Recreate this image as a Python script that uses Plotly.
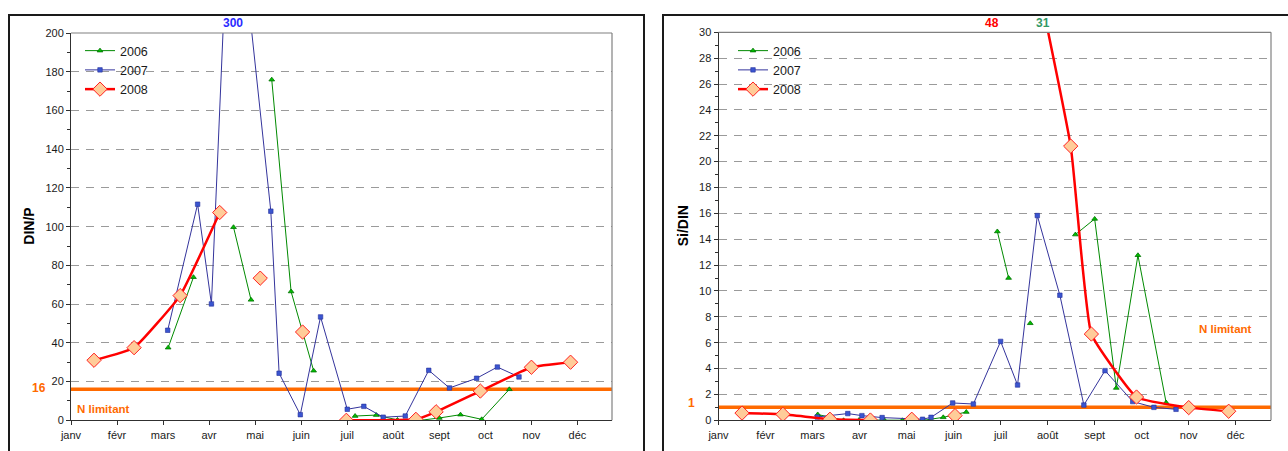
import plotly.graph_objects as go

# ---- axis / categories -------------------------------------------------
mois_labels = ["janv", "févr", "mars", "avr", "mai", "juin",
               "juil", "août", "sept", "oct", "nov", "déc"]

# Sampling dates expressed in months since 1 January (None = break in the line)
mois_2006_dinp = [2.11, 2.66, None, 3.53, 3.91, None, 4.36, 4.78, 5.27, None,
                  6.17, 6.63, 7.09, 7.59, 8.00, 8.46, 8.92, 9.52]
din_p_2006 = [37.5, 73.9, None, 99.7, 62.2, None, 175.9, 66.5, 25.6, None,
              2.2, 2.7, 0.2, 0.0, 1.2, 2.9, 0.5, 16.0]

mois_2006_sidin = [2.11, 2.66, 2.99, 3.53, 3.91, 4.36, 4.78, 5.27, None,
                   5.93, 6.17, None, 6.63, None, 7.09, None,
                   7.59, 8.00, 8.46, 8.92, 9.52]
si_din_2006 = [0.45, 0.0, 0.02, 0.0, 0.0, 0.0, 0.23, 0.64, None,
               14.6, 11.0, None, 7.5, None, 31, None,
               14.36, 15.57, 2.5, 12.76, 1.37]

mois_2007 = [2.10, 2.75, 3.05, 3.48, 4.34, 4.52, 4.98, 5.42, 6.00, 6.36,
             6.78, 7.26, 7.77, 8.22, 8.81, 9.26, 9.73]
din_p_2007 = [46.5, 111.6, 60.1, 300, 108.0, 24.3, 2.9, 53.4, 5.7, 7.2,
              1.6, 2.2, 25.8, 16.7, 21.7, 27.5, 22.4]
si_din_2007 = [0.26, 0.52, 0.36, 0.21, 0.08, 0.23, 1.34, 1.26, 6.1, 2.73,
               15.83, 9.67, 1.18, 3.84, 1.45, 1.0, 0.85]

mois_2008 = [0.50, 1.37, 2.37, 3.23, None, 4.11, None, 5.03, None,
             5.98, 7.49, 7.93, 8.89, 10.0, 10.85]
din_p_2008 = [31.0, 37.5, 64.4, 107.3, None, 73.4, None, 45.6, None,
              0.0, 0.5, 4.4, 15.1, 27.4, 30.0]
si_din_2008 = [0.56, 0.46, 0.08, 0.02, None, 0.08, None, 0.36, None,
               48, 21.2, 6.67, 1.80, 0.98, 0.70]

# Limitation thresholds
seuil_din_p = 16
seuil_si_din = 1

# ---- styling -----------------------------------------------------------
W, H = 1288, 451
FONT = "Liberation Sans, Arial, sans-serif"
ORANGE = "#FF6A00"
X_MAX = 11.75

styles = {
    "2006": dict(line=dict(color="#008A00", width=1),
                 marker=dict(symbol="triangle-up", size=5, color="#00C000",
                             line=dict(color="#007000", width=0.8)),
                 label_color="#339966"),
    "2007": dict(line=dict(color="#34349C", width=1),
                 marker=dict(symbol="square", size=4.5, color="#3A55D0",
                             line=dict(color="#27309A", width=0.6)),
                 label_color="#2B2BFF"),
    "2008": dict(line=dict(color="#FF0000", width=2.5, shape="spline",
                           smoothing=0.35),
                 marker=dict(symbol="diamond", size=11, color="#FFCC99",
                             line=dict(color="#FF2020", width=1)),
                 label_color="#FF0000"),
}
# horizontal nudge for the labels of off-scale values
label_shift = {("2007", "y"): 2, ("2008", "y2"): -8, ("2006", "y2"): -9}


def px_x(p):
    return p / W


def px_y(p):
    return 1 - p / H


left_dom = [px_x(71), px_x(612)]
right_dom = [px_x(718.5), px_x(1271)]
y_dom_l = [px_y(420.3), px_y(33)]
y_dom_r = [px_y(420.3), px_y(32.3)]

fig = go.Figure()

panels = [
    ("x", "y", "legend", [("2006", mois_2006_dinp, din_p_2006),
                          ("2007", mois_2007, din_p_2007),
                          ("2008", mois_2008, din_p_2008)], 200),
    ("x2", "y2", "legend2", [("2006", mois_2006_sidin, si_din_2006),
                             ("2007", mois_2007, si_din_2007),
                             ("2008", mois_2008, si_din_2008)], 30),
]

annotations = []
for xa, ya, leg, series, ymax in panels:
    for name, xs, ys in series:
        st = styles[name]
        fig.add_trace(go.Scatter(
            x=xs, y=ys, name=name, mode="lines+markers",
            line=st["line"], marker=st["marker"],
            xaxis=xa, yaxis=ya, legend=leg, connectgaps=False,
            hoverinfo="skip"))
        # values beyond the axis are written above the frame
        for xv, yv in zip(xs, ys):
            if yv is not None and yv > ymax:
                annotations.append(dict(
                    x=xv, xref=xa, y=px_y(23), yref="paper",
                    xanchor="center", yanchor="middle",
                    text=f"<b>{yv:g}</b>", showarrow=False,
                    xshift=label_shift.get((name, ya), 0),
                    font=dict(family=FONT, size=12, color=st["label_color"])))

axis_common = dict(showline=True, linecolor="#303030", linewidth=1,
                   ticks="outside", tickcolor="#303030", ticklen=4,
                   tickfont=dict(family=FONT, size=11, color="#1a1a1a"),
                   zeroline=False, fixedrange=True)

fig.update_layout(
    template="none",
    width=W, height=H,
    margin=dict(l=0, r=0, t=0, b=0),
    paper_bgcolor="white", plot_bgcolor="white",
    showlegend=True,
    xaxis=dict(domain=left_dom, anchor="y", range=[0, X_MAX],
               tickvals=list(range(12)), ticktext=mois_labels,
               showgrid=False, **axis_common),
    yaxis=dict(domain=y_dom_l, anchor="x", range=[0, 200], dtick=20,
               showgrid=True, gridcolor="#9a9a9a", gridwidth=1,
               griddash="8px,7px",
               minor=dict(dtick=10, ticks="outside", ticklen=3,
                          tickcolor="#303030", showgrid=False),
               **axis_common),
    xaxis2=dict(domain=right_dom, anchor="y2", range=[0, X_MAX],
                tickvals=list(range(12)), ticktext=mois_labels,
                showgrid=False, **axis_common),
    yaxis2=dict(domain=y_dom_r, anchor="x2", range=[0, 30], dtick=2,
                showgrid=True, gridcolor="#9a9a9a", gridwidth=1,
                griddash="8px,7px",
                minor=dict(dtick=1, ticks="outside", ticklen=3,
                           tickcolor="#303030", showgrid=False),
                **axis_common),
    legend=dict(x=px_x(80), y=px_y(36), xanchor="left", yanchor="top",
                bgcolor="rgba(0,0,0,0)", itemwidth=30,
                font=dict(family=FONT, size=12.5, color="#1a1a1a")),
    legend2=dict(x=px_x(733), y=px_y(36), xanchor="left", yanchor="top",
                 bgcolor="rgba(0,0,0,0)", itemwidth=30,
                 font=dict(family=FONT, size=12.5, color="#1a1a1a")),
)

shapes = []
# outer chart frames
shapes.append(dict(type="rect", xref="paper", yref="paper",
                   x0=px_x(9), x1=px_x(644), y0=-0.1, y1=px_y(15),
                   line=dict(color="#1a1a1a", width=2), layer="below"))
shapes.append(dict(type="rect", xref="paper", yref="paper",
                   x0=px_x(663), x1=1.05, y0=-0.1, y1=px_y(15),
                   line=dict(color="#1a1a1a", width=2), layer="below"))
# grey top / right border of each plot area
for xa, ya in (("x", "y"), ("x2", "y2")):
    shapes.append(dict(type="line", xref=f"{xa} domain", yref=f"{ya} domain",
                       x0=0, x1=1, y0=1, y1=1,
                       line=dict(color="#808080", width=1.2)))
    shapes.append(dict(type="line", xref=f"{xa} domain", yref=f"{ya} domain",
                       x0=1, x1=1, y0=0, y1=1,
                       line=dict(color="#808080", width=1.2)))
# nitrogen-limitation thresholds
for xa, ya, seuil in (("x", "y", seuil_din_p), ("x2", "y2", seuil_si_din)):
    shapes.append(dict(type="line", xref=f"{xa} domain", yref=ya,
                       x0=0, x1=1, y0=seuil, y1=seuil, layer="below",
                       line=dict(color=ORANGE, width=3.5)))
fig.update_layout(shapes=shapes)

orange_font = dict(family=FONT, size=11.5, color=ORANGE)
annotations += [
    # threshold values next to the y axes
    dict(x=px_x(39), xref="paper", y=seuil_din_p, yref="y",
         xanchor="center", yanchor="middle",
         text=f"<b>{seuil_din_p}</b>", showarrow=False, yshift=1,
         font=dict(family=FONT, size=12, color=ORANGE)),
    dict(x=px_x(691), xref="paper", y=seuil_si_din, yref="y2",
         xanchor="center", yanchor="middle",
         text=f"<b>{seuil_si_din}</b>", showarrow=False, yshift=4,
         font=dict(family=FONT, size=12, color=ORANGE)),
    # threshold captions
    dict(x=0.08, xref="x", y=6, yref="y", xanchor="left", yanchor="middle",
         text="<b>N limitant</b>", showarrow=False, font=orange_font),
    dict(x=10.17, xref="x2", y=7.05, yref="y2", xanchor="left",
         yanchor="middle",
         text="<b>N limitant</b>", showarrow=False, font=orange_font),
    # y-axis titles
    dict(x=px_x(29), xref="paper", y=(y_dom_l[0] + y_dom_l[1]) / 2,
         yref="paper", xanchor="center", yanchor="middle",
         text="<b>DIN/P</b>", textangle=-90, showarrow=False,
         font=dict(family=FONT, size=14, color="#000000")),
    dict(x=px_x(683), xref="paper", y=(y_dom_r[0] + y_dom_r[1]) / 2,
         yref="paper", xanchor="center", yanchor="middle",
         text="<b>Si/DIN</b>", textangle=-90, showarrow=False,
         font=dict(family=FONT, size=14, color="#000000")),
]
fig.update_layout(annotations=annotations)

fig.write_html("out.html", config={"displayModeBar": False})
